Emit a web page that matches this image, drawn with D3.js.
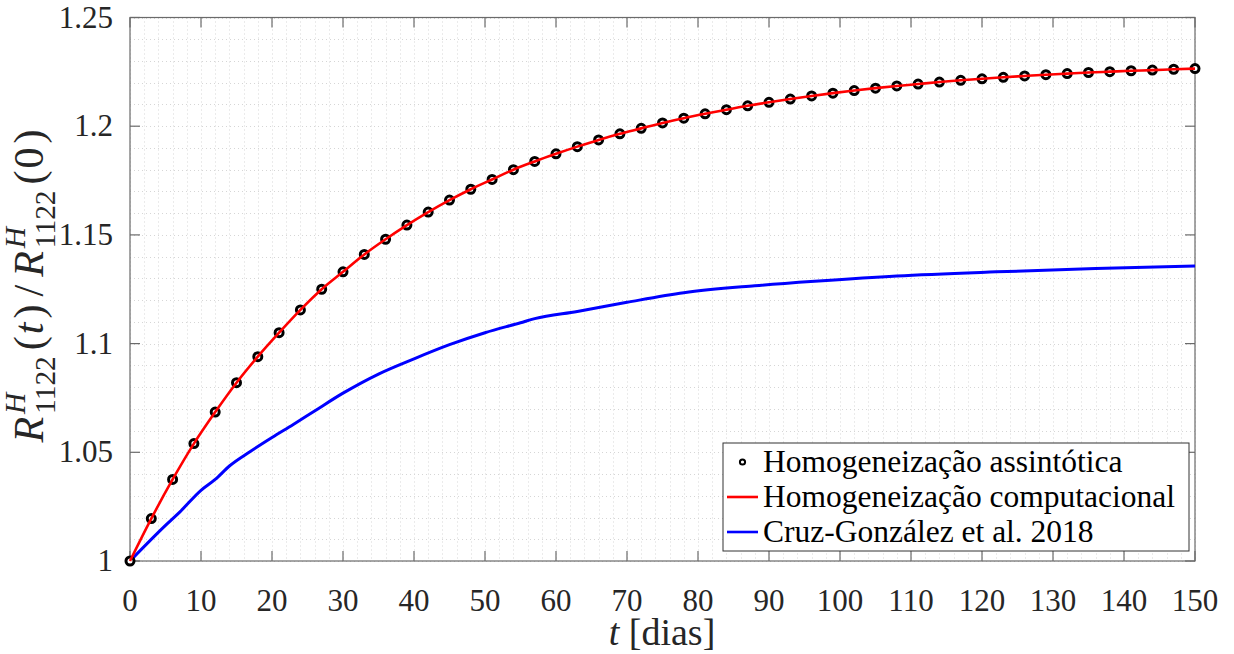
<!DOCTYPE html>
<html>
<head>
<meta charset="utf-8">
<script src="https://cdn.jsdelivr.net/npm/d3@7"></script>
<style>
  body { margin: 0; background: #fff; }
  svg { display: block; }
  text { font-family: "Liberation Serif", "DejaVu Serif", serif; fill: #262626; }
</style>
</head>
<body>
<svg id="chart" width="1234" height="654"></svg>
<script>
// Homogeneização assintótica (marcadores) e computacional (linha vermelha)
var tAsym = [0, 3, 6, 9, 12, 15, 18, 21, 24, 27, 30, 33, 36, 39, 42, 45, 48, 51, 54, 57,
  60, 63, 66, 69, 72, 75, 78, 81, 84, 87, 90, 93, 96, 99, 102, 105, 108, 111, 114, 117,
  120, 123, 126, 129, 132, 135, 138, 141, 144, 147, 150];
var rAsym = [1.0000, 1.0195, 1.0375, 1.0540, 1.0685, 1.0820, 1.0940, 1.1050, 1.1155, 1.1250,
  1.1330, 1.1410, 1.1480, 1.1545, 1.1605, 1.1660, 1.1710, 1.1755, 1.1800, 1.1838,
  1.1873, 1.1906, 1.1937, 1.1965, 1.1990, 1.2015, 1.2037, 1.2057, 1.2076, 1.2094,
  1.2110, 1.2125, 1.2139, 1.2152, 1.2164, 1.2175, 1.2185, 1.2194, 1.2203, 1.2211,
  1.2218, 1.2225, 1.2231, 1.2237, 1.2242, 1.2247, 1.2251, 1.2255, 1.2258, 1.2262, 1.2265];

// Cruz-González et al. 2018
var tCruz = [0, 5, 7, 10, 12, 14, 17, 20, 23, 26, 30, 35, 40, 45, 50, 55, 57, 63, 70, 78,
  88, 97, 108, 122, 136, 150];
var rCruz = [1.0000, 1.0164, 1.0225, 1.0325, 1.0375, 1.0437, 1.0505, 1.0568, 1.0628, 1.0690,
  1.0772, 1.0860, 1.0930, 1.0995, 1.1050, 1.1096, 1.1115, 1.1148, 1.1190, 1.1234,
  1.1266, 1.1288, 1.1311, 1.1330, 1.1345, 1.1357];

var xTicks = [0, 10, 20, 30, 40, 50, 60, 70, 80, 90, 100, 110, 120, 130, 140, 150];
var yTicks = [1, 1.05, 1.1, 1.15, 1.2, 1.25];
var yTickLabels = ["1", "1.05", "1.1", "1.15", "1.2", "1.25"];
var legendLabels = ["Homogeneização assintótica", "Homogeneização computacional", "Cruz-González et al. 2018"];

var svg = d3.select("#chart");
var pLeft = 130, pRight = 1195, pTop = 17.5, pBottom = 561;

var xscale = d3.scaleLinear().domain([0, 150]).range([pLeft, pRight]);
var yscale = d3.scaleLinear().domain([1, 1.25]).range([pBottom, pTop]);

// Grid (minor + major, dotted)
var grid = svg.append("g").classed("grid", true);
var xMinor = d3.range(0, 150.001, 2), yMinor = d3.range(0, 25.001, 1).map(function (i) { return 1 + i / 100; });
grid.selectAll("line.xm").data(xMinor).enter().append("line")
  .attr("x1", function (d) { return Math.round(xscale(d)) + 0.5; })
  .attr("x2", function (d) { return Math.round(xscale(d)) + 0.5; })
  .attr("y1", pTop).attr("y2", pBottom)
  .style("stroke", "#d6d6d6").style("stroke-dasharray", "1,3");
grid.selectAll("line.ym").data(yMinor).enter().append("line")
  .attr("y1", function (d) { return Math.round(yscale(d)) + 0.5; })
  .attr("y2", function (d) { return Math.round(yscale(d)) + 0.5; })
  .attr("x1", pLeft).attr("x2", pRight)
  .style("stroke", "#d6d6d6").style("stroke-dasharray", "1,3");

// Axes box with inward ticks on all four sides
var axes = svg.append("g").style("stroke", "#6a6a6a").style("stroke-width", 1.2);
axes.append("rect").attr("x", pLeft).attr("y", pTop).attr("width", pRight - pLeft).attr("height", pBottom - pTop)
  .style("fill", "none");
xTicks.forEach(function (t) {
  var x = xscale(t);
  axes.append("line").attr("x1", x).attr("x2", x).attr("y1", pBottom).attr("y2", pBottom - 10);
  axes.append("line").attr("x1", x).attr("x2", x).attr("y1", pTop).attr("y2", pTop + 10);
});
yTicks.forEach(function (v) {
  var y = yscale(v);
  axes.append("line").attr("x1", pLeft).attr("x2", pLeft + 10).attr("y1", y).attr("y2", y);
  axes.append("line").attr("x1", pRight).attr("x2", pRight - 10).attr("y1", y).attr("y2", y);
});

// Tick labels
svg.append("g").selectAll("text").data(xTicks).enter().append("text")
  .attr("x", function (d) { return xscale(d); })
  .attr("y", 611)
  .attr("text-anchor", "middle")
  .style("font-size", "31px")
  .text(function (d) { return d; });
svg.append("g").selectAll("text").data(yTicks).enter().append("text")
  .attr("x", 113)
  .attr("y", function (d) { return yscale(d) + 10; })
  .attr("text-anchor", "end")
  .style("font-size", "31px")
  .text(function (d, i) { return yTickLabels[i]; });

// Curves
var plot = svg.append("g");
plot.append("path")
  .attr("d", d3.line().curve(d3.curveMonotoneX)
    .x(function (d, i) { return xscale(tCruz[i]); })
    .y(function (d) { return yscale(d); })(rCruz))
  .style("fill", "none").style("stroke", "#0000ff").style("stroke-width", 3);

plot.selectAll("circle").data(rAsym).enter().append("circle")
  .attr("cx", function (d, i) { return xscale(tAsym[i]); })
  .attr("cy", function (d) { return yscale(d); })
  .attr("r", 4)
  .style("fill", "#fff").style("stroke", "#000").style("stroke-width", 3);

plot.append("path")
  .attr("d", d3.line().curve(d3.curveMonotoneX)
    .x(function (d, i) { return xscale(tAsym[i]); })
    .y(function (d) { return yscale(d); })(rAsym))
  .style("fill", "none").style("stroke", "#ff0000").style("stroke-width", 2.6);

// Legend
var legend = svg.append("g");
legend.append("rect").attr("x", 723).attr("y", 443).attr("width", 466).attr("height", 108)
  .style("fill", "#fff").style("stroke", "#333").style("stroke-width", 1);
var rowY = [462, 497, 532];
legend.append("circle").attr("cx", 742.5).attr("cy", rowY[0]).attr("r", 2.6)
  .style("fill", "#fff").style("stroke", "#000").style("stroke-width", 2);
legend.append("line").attr("x1", 727).attr("x2", 758).attr("y1", rowY[1]).attr("y2", rowY[1])
  .style("stroke", "#ff0000").style("stroke-width", 2.6);
legend.append("line").attr("x1", 727).attr("x2", 758).attr("y1", rowY[2]).attr("y2", rowY[2])
  .style("stroke", "#0000ff").style("stroke-width", 2.6);
legend.selectAll("text").data(legendLabels).enter().append("text")
  .attr("x", 763).attr("y", function (d, i) { return rowY[i] + 10; })
  .style("font-size", "31.5px").style("fill", "#000")
  .text(function (d) { return d; });

// X label: t [dias]
var xl = svg.append("text").attr("x", 662).attr("y", 645).attr("text-anchor", "middle")
  .style("font-size", "38px");
xl.append("tspan").style("font-style", "italic").text("t");
xl.append("tspan").text(" [dias]");

// Y label: R^H_1122(t) / R^H_1122(0), built piece by piece in a rotated group
var F = 42;
var yl = svg.append("g");
var pos = 0;
function piece(txt, italic, size, dy) {
  var el = yl.append("text").attr("x", pos).attr("y", dy)
    .style("font-size", size + "px").style("font-style", italic ? "italic" : "normal").text(txt);
  return el.node().getComputedTextLength();
}
function term(arg) {
  pos += piece("R", true, F, 0) + 3;
  var w1 = piece("H", true, F * 0.7, -0.42 * F);
  var w2 = piece("1122", false, F * 0.7, 0.28 * F);
  pos += Math.max(w1, w2) + 6;
  pos += piece("(", false, F, 0) + 2;
  pos += piece(arg, arg === "t", F, 0) + 4;
  pos += piece(")", false, F, 0) + 8;
}
term("t");
pos += piece("/", false, F, 0) + 8;
term("0");
// centre the label on y = 282
yl.attr("transform", "translate(43," + (282 + pos / 2) + ") rotate(-90)");
</script>
</body>
</html>
